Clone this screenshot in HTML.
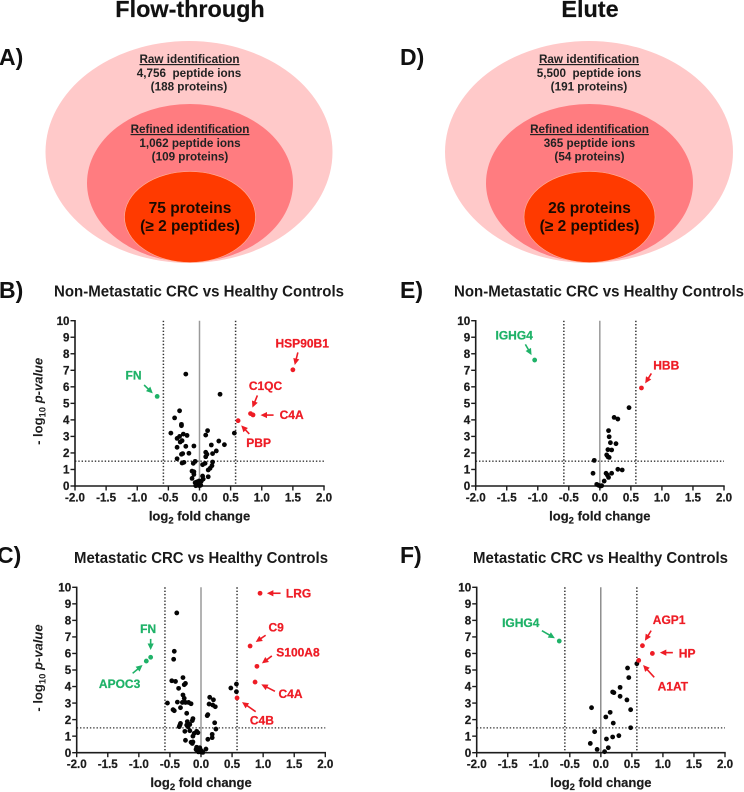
<!DOCTYPE html>
<html lang="en">
<head>
<meta charset="utf-8">
<title>Flow-through and Elute identification and volcano plots</title>
<style>
html,body{margin:0;padding:0;background:#fff;width:744px;height:792px;overflow:hidden}
svg{display:block;font-family:"Liberation Sans",sans-serif;font-weight:bold;filter:blur(0.35px)}
</style>
</head>
<body>
<svg id="figure" xmlns="http://www.w3.org/2000/svg" width="744" height="792" viewBox="0 0 744 792">
  <text x="190" y="17" font-size="23.4" text-anchor="middle" fill="#111" stroke="#111" stroke-width="0.2">Flow-through</text>
  <text x="590" y="17" font-size="23.4" text-anchor="middle" fill="#111" stroke="#111" stroke-width="0.2">Elute</text>

  <g>
    <text x="-1" y="65" font-size="23" fill="#111">A)</text>
    <ellipse cx="189" cy="152" rx="143.5" ry="111" fill="#ffc9c9"/>
    <ellipse cx="190" cy="183" rx="103" ry="79" fill="#ff7c80"/>
    <ellipse cx="190" cy="217" rx="65.5" ry="45.5" fill="#ff3a00" stroke="#ffb49a" stroke-width="0.6"/>
    <g font-size="11.7" text-anchor="middle" fill="#222">
      <text x="189.5" y="63" text-decoration="underline">Raw identification</text>
      <text x="189" y="77" xml:space="preserve">4,756  peptide ions</text>
      <text x="189" y="90.5">(188 proteins)</text>
      <text x="190" y="133" text-decoration="underline">Refined identification</text>
      <text x="190" y="147">1,062 peptide ions</text>
      <text x="190" y="160.5">(109 proteins)</text>
    </g>
    <g font-size="15.5" text-anchor="middle" fill="#1a0a00">
      <text x="190" y="213">75 proteins</text>
      <text x="190" y="231">(≥ 2 peptides)</text>
    </g>
  </g>

  <g>
    <text x="400" y="65" font-size="23" fill="#111">D)</text>
    <ellipse cx="589" cy="152" rx="144" ry="111" fill="#ffc9c9"/>
    <ellipse cx="589.5" cy="183" rx="103.5" ry="79" fill="#ff7c80"/>
    <ellipse cx="589.5" cy="217" rx="65.5" ry="45.5" fill="#ff3a00" stroke="#ffb49a" stroke-width="0.6"/>
    <g font-size="11.7" text-anchor="middle" fill="#222">
      <text x="589" y="63" text-decoration="underline">Raw identification</text>
      <text x="589" y="77" xml:space="preserve">5,500  peptide ions</text>
      <text x="589" y="90.5">(191 proteins)</text>
      <text x="589.5" y="133" text-decoration="underline">Refined identification</text>
      <text x="589.5" y="147">365 peptide ions</text>
      <text x="589.5" y="160.5">(54 proteins)</text>
    </g>
    <g font-size="15.5" text-anchor="middle" fill="#1a0a00">
      <text x="589.5" y="213">26 proteins</text>
      <text x="589.5" y="231">(≥ 2 peptides)</text>
    </g>
  </g>
</svg>

<script>
// Shared axis data
const xTicks = [-2, -1.5, -1, -0.5, 0, 0.5, 1, 1.5, 2];
const yTicks = [0, 1, 2, 3, 4, 5, 6, 7, 8, 9, 10];
const foldThreshold = [-0.58, 0.58];
const pThreshold = [1.5];

// Panel B: Flow-through, non-metastatic [log2 FC, -log10 p]
const panelBNeutral = [[-0.22,6.77],[0.33,5.55],[-0.32,4.55],[-0.40,4.12],[-0.29,3.73],[-0.29,3.65],[-0.46,3.2],[-0.26,3.14],[-0.20,3.06],[-0.32,3.0],[-0.36,2.88],[-0.28,2.74],[-0.31,2.66],[-0.36,2.34],[-0.22,2.4],[-0.09,2.42],[-0.27,1.96],[-0.17,1.98],[-0.36,1.65],[-0.29,1.92],[-0.25,1.43],[-0.28,1.39],[-0.07,1.49],[-0.10,1.37],[0.13,3.35],[0.10,3.08],[0.56,3.2],[0.31,2.72],[0.40,2.5],[0.19,2.48],[0.27,2.12],[0.21,1.96],[0.10,2.04],[0.12,1.92],[0.10,1.77],[0.09,1.37],[0.05,1.29],[0.21,1.45],[0.20,1.23],[0.17,1.07],[0.14,0.97],[-0.12,0.9],[-0.09,0.86],[-0.12,0.46],[-0.09,0.7],[0.05,0.6],[0.14,0.56],[0.06,0.42],[-0.07,0.2],[-0.05,0.1],[-0.03,0.05],[-0.02,0.15],[0,0.02],[0.01,0.1],[0.02,0.25],[0.03,0.3],[-0.04,0.25],[-0.01,0.3],[0.02,0.05],[-0.06,0.02],[0,0.2]];
const panelBUp = [[1.50,7.03],[0.82,4.38],[0.86,4.3],[0.62,3.95]];
const panelBDown = [[-0.68,5.42]];

// Panel E: Elute, non-metastatic
const panelENeutral = [[0.47,4.74],[0.23,4.15],[0.29,4.05],[0.14,3.35],[0.15,2.98],[0.17,2.62],[0.26,2.56],[0.13,2.2],[0.19,2.18],[0.11,1.88],[0.13,1.77],[0.15,1.73],[-0.09,1.55],[-0.11,0.77],[0.10,0.77],[0.19,0.77],[0.29,1.01],[0.36,0.97],[0.12,0.67],[0.14,0.52],[0.07,0.3],[-0.05,0.1],[-0.02,0.04],[0.01,0.0],[0.03,0.02]];
const panelEUp = [[0.67,5.93]];
const panelEDown = [[-1.05,7.62]];

// Panel C: Flow-through, metastatic
const panelCNeutral = [[-0.39,8.45],[-0.43,6.13],[-0.44,5.65],[-0.47,4.35],[-0.41,4.31],[-0.29,4.54],[-0.25,4.19],[-0.27,4.11],[-0.36,3.89],[-0.29,3.49],[-0.27,3.29],[-0.54,3.0],[-0.38,3.06],[-0.30,3.04],[-0.25,3.04],[-0.20,3.04],[-0.16,2.96],[-0.33,2.72],[-0.45,2.6],[-0.43,2.54],[-0.23,2.38],[-0.13,2.06],[-0.14,1.94],[-0.22,1.88],[-0.33,1.77],[-0.34,1.67],[-0.35,1.57],[-0.23,1.67],[-0.18,1.71],[-0.21,1.57],[-0.07,1.29],[-0.11,1.17],[-0.13,1.0],[-0.05,1.21],[-0.26,1.29],[-0.18,1.33],[-0.25,0.75],[-0.16,0.63],[-0.13,0.65],[-0.14,0.56],[-0.07,0.33],[-0.05,0.25],[-0.03,0.15],[-0.08,0.2],[-0.06,0.12],[-0.02,0.3],[-0.04,0.05],[0,0.04],[-0.01,0.18],[0.01,0.1],[0.03,0.02],[0.08,0.22],[0.11,0.81],[0.18,0.91],[0.18,1.11],[0.24,1.43],[0.22,1.81],[0.10,2.24],[0.11,2.3],[0.14,3.35],[0.20,3.2],[0.13,2.94],[0.19,2.88],[0.23,2.78],[0.48,3.91],[0.57,4.15],[0.57,3.69]];
const panelCUp = [[0.95,9.64],[0.79,6.45],[0.90,5.22],[0.87,4.27],[0.58,3.31]];
const panelCDown = [[-0.81,5.77],[-0.88,5.54]];

// Panel F: Elute, metastatic
const panelFNeutral = [[0.58,5.38],[0.43,5.12],[0.45,4.54],[0.31,3.95],[0.19,3.67],[0.21,3.63],[0.31,3.41],[0.42,3.19],[0.48,2.6],[-0.15,2.72],[0.15,2.44],[0.08,2.16],[0.20,1.79],[0.48,1.51],[-0.10,1.27],[0.29,1.03],[0.19,0.95],[0.09,0.83],[-0.17,0.56],[0.12,0.3],[-0.06,0.2],[0.06,0.06]];
const panelFUp = [[0.67,6.47],[0.83,6.0],[0.61,5.58]];
const panelFDown = [[-0.67,6.75]];

// Protein callouts, in chart units: [name, label x, label baseline y, arrow start x, start y, arrow tip x, tip y, kind]
const panelBCallouts = [["HSP90B1",1.65,8.39,1.58,8.08,1.53,7.32,"up"],["C1QC",1.06,5.81,0.93,5.48,0.85,4.74,"up"],["C4A",1.48,4.05,1.19,4.29,0.98,4.29,"up"],["PBP",0.95,2.36,0.80,3.15,0.67,3.67,"up"],["FN",-1.06,6.45,-0.89,6.11,-0.75,5.6,"down"]];
const panelECallouts = [["HBB",1.07,7.04,0.83,6.81,0.73,6.21,"up"],["IGHG4",-1.38,8.87,-1.2,8.57,-1.1,7.92,"down"]];
const panelCCallouts = [["LRG",1.57,9.38,1.28,9.64,1.06,9.64,"up"],["C9",1.21,7.32,1.04,7.1,0.88,6.69,"up"],["S100A8",1.56,5.81,1.14,5.85,0.98,5.4,"up"],["C4A",1.44,3.31,1.19,3.71,0.97,4.13,"up"],["C4B",0.98,1.71,0.88,2.48,0.66,3.06,"up"],["FN",-0.85,7.24,-0.81,6.88,-0.81,6.21,"down"],["APOC3",-1.31,3.91,-1.1,4.8,-0.94,5.3,"down"]];
const panelFCallouts = [["AGP1",1.1,7.78,0.81,7.38,0.71,6.77,"up"],["HP",1.39,5.77,1.16,6.05,0.95,6.05,"up"],["A1AT",1.16,3.77,0.86,4.56,0.68,5.3,"up"],["IGHG4",-1.29,7.6,-0.95,7.38,-0.74,6.92,"down"]];

const RED = "#ee1c25";
const GREEN = "#1fb268";
const INK = "#1c1c1c";
const NS = "http://www.w3.org/2000/svg";
const figure = document.getElementById("figure");

function make(parent, tag, attrs, content) {
  const el = document.createElementNS(NS, tag);
  for (const key in attrs) el.setAttribute(key, attrs[key]);
  if (content !== undefined) el.textContent = content;
  parent.appendChild(el);
  return el;
}

function drawPanel(p) {
  const sx = v => p.x0 + (v + 2) / 4 * (p.x1 - p.x0);
  const sy = v => p.y0 - v / 10 * (p.y0 - p.y1);

  const group = make(figure, "g", {});
  
  

  const letter = make(group, "text", {x: p.letterX, y: p.letterY, "font-size": 23, fill: "#111"}, p.id.toUpperCase() + ")");
  
  

  const heading = make(group, "text", {x: p.titleX, y: p.titleY, "font-size": 15.5, fill: "#1a1a1a", textLength: p.titleW, lengthAdjust: "spacingAndGlyphs"}, p.title);
  
  

  // reference lines
  const zero = make(group, "line", {x1: sx(0), x2: sx(0), y1: p.y1, y2: p.y0, stroke: p.zeroColor, "stroke-width": p.zeroWidth});
  
  

  foldThreshold.forEach(v => {
    const rule = make(group, "line", {x1: sx(v), x2: sx(v), y1: p.y1, y2: p.y0, stroke: "#333", "stroke-width": 1.5, "stroke-dasharray": "1.4 1.9"});
    
    
  });
  pThreshold.forEach(v => {
    const rule = make(group, "line", {x1: p.x0, x2: p.x1, y1: sy(v), y2: sy(v), stroke: "#333", "stroke-width": 1.3, "stroke-dasharray": "1.4 1.9"});
    
    
  });

  // axes
  const xAxis = make(group, "line", {x1: p.x0 - 0.7, x2: p.x1 + 0.7, y1: p.y0, y2: p.y0, stroke: INK, "stroke-width": 1.6});
  
  
  const yAxis = make(group, "line", {x1: p.x0, x2: p.x0, y1: p.y1 - 0.7, y2: p.y0 + 0.7, stroke: INK, "stroke-width": 1.6});
  
  

  xTicks.forEach(v => {
    const tick = make(group, "line", {x1: sx(v), x2: sx(v), y1: p.y0, y2: p.y0 + 4.5, stroke: INK, "stroke-width": 1.4});
    
    
    const label = make(group, "text", {x: sx(v), y: p.y0 + 15.5, "font-size": 11.6, "text-anchor": "middle", fill: INK, stroke: INK, "stroke-width": 0.25}, v.toFixed(1));
    
    
  });
  yTicks.forEach(v => {
    const tick = make(group, "line", {x1: p.x0 - 4.5, x2: p.x0, y1: sy(v), y2: sy(v), stroke: INK, "stroke-width": 1.4});
    
    
    const label = make(group, "text", {x: p.x0 - 5.5, y: sy(v) + 4.2, "font-size": 11.6, "text-anchor": "end", fill: INK, stroke: INK, "stroke-width": 0.25}, String(v));
    
    
  });

  // axis titles
  const xTitle = make(group, "text", {x: (p.x0 + p.x1) / 2, y: p.y0 + 34.5, "font-size": 13, "text-anchor": "middle", fill: INK, stroke: INK, "stroke-width": 0.2});
  
  
  make(xTitle, "tspan", {}, "log");
  make(xTitle, "tspan", {dy: 3, "font-size": 9.5}, "2");
  make(xTitle, "tspan", {dy: -3}, " fold change");

  if (p.yTitle) {
    const cy = (p.y0 + p.y1) / 2 - 2;
    const yTitle = make(group, "text", {transform: "translate(42.7," + cy + ") rotate(-90)", "font-size": 13, "text-anchor": "middle", fill: INK});
    
    
    make(yTitle, "tspan", {}, "- log");
    make(yTitle, "tspan", {dy: 3, "font-size": 9.5}, "10");
    make(yTitle, "tspan", {dy: -3, "font-style": "italic"}, " p-value");
  }

  // markers
  p.neutral.forEach(d => {
    const dot = make(group, "circle", {cx: sx(d[0]), cy: sy(d[1]), r: 2.4, fill: "#050505"});
    
    
  });
  p.up.forEach(d => {
    const dot = make(group, "circle", {cx: sx(d[0]), cy: sy(d[1]), r: 2.4, fill: RED});
    
    
  });
  p.down.forEach(d => {
    const dot = make(group, "circle", {cx: sx(d[0]), cy: sy(d[1]), r: 2.4, fill: GREEN});
    
    
  });

  // callouts
  p.callouts.forEach(c => {
    const color = c[7] === "up" ? RED : GREEN;
    const label = make(group, "text", {x: sx(c[1]), y: sy(c[2]), "font-size": 12, "text-anchor": "middle", fill: color, stroke: color, "stroke-width": 0.25}, c[0]);
    
    

    const ax = sx(c[3]), ay = sy(c[4]), bx = sx(c[5]), by = sy(c[6]);
    const len = Math.hypot(bx - ax, by - ay) || 1;
    const ux = (bx - ax) / len, uy = (by - ay) / len;
    const shaft = make(group, "line", {x1: ax, y1: ay, x2: bx - ux * 4, y2: by - uy * 4, stroke: color, "stroke-width": 1.6});
    
    
    const pts = [[bx, by], [bx - ux * 6.5 - uy * 3.1, by - uy * 6.5 + ux * 3.1], [bx - ux * 6.5 + uy * 3.1, by - uy * 6.5 - ux * 3.1]];
    const head = make(group, "polygon", {points: pts.map(q => q.join(",")).join(" "), fill: color});
    
    
  });
}

drawPanel({id: "b", x0: 75, x1: 324, y0: 486, y1: 320.7, yTitle: true, zeroColor: "#9a9a9a", zeroWidth: 1.5,
  title: "Non-Metastatic CRC vs Healthy Controls", titleX: 54, titleY: 296.5, titleW: 290, letterX: -1, letterY: 298,
  neutral: panelBNeutral, up: panelBUp, down: panelBDown, callouts: panelBCallouts});
drawPanel({id: "e", x0: 475.7, x1: 724, y0: 486, y1: 320.7, yTitle: false, zeroColor: "#808080", zeroWidth: 1.2,
  title: "Non-Metastatic CRC vs Healthy Controls", titleX: 454, titleY: 296.5, titleW: 290, letterX: 400, letterY: 298,
  neutral: panelENeutral, up: panelEUp, down: panelEDown, callouts: panelECallouts});
drawPanel({id: "c", x0: 76.7, x1: 325.3, y0: 752.7, y1: 587.3, yTitle: true, zeroColor: "#9a9a9a", zeroWidth: 1.5,
  title: "Metastatic CRC vs Healthy Controls", titleX: 74, titleY: 563, titleW: 254, letterX: -3, letterY: 563,
  neutral: panelCNeutral, up: panelCUp, down: panelCDown, callouts: panelCCallouts});
drawPanel({id: "f", x0: 476.7, x1: 725, y0: 752.7, y1: 587.3, yTitle: false, zeroColor: "#555", zeroWidth: 1,
  title: "Metastatic CRC vs Healthy Controls", titleX: 473, titleY: 563, titleW: 255, letterX: 400, letterY: 563,
  neutral: panelFNeutral, up: panelFUp, down: panelFDown, callouts: panelFCallouts});
</script>
</body>
</html>
